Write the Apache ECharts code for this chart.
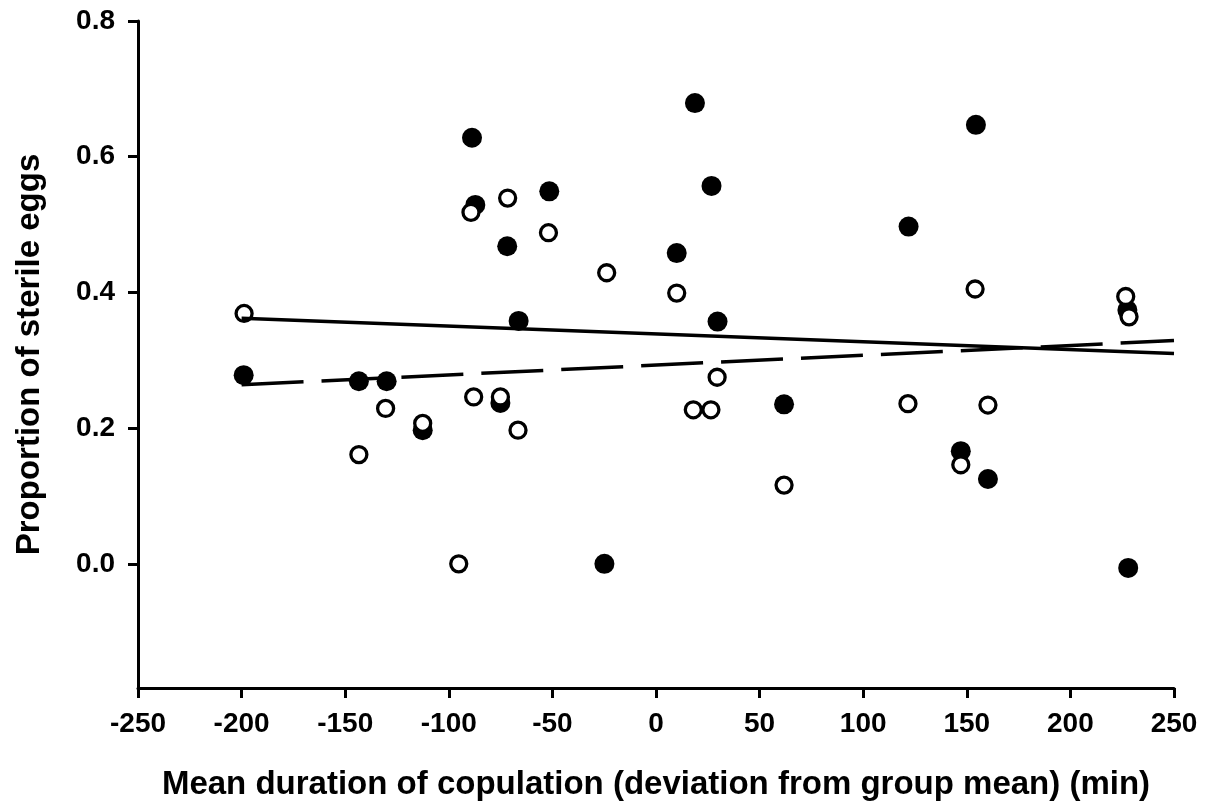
<!DOCTYPE html>
<html>
<head>
<meta charset="utf-8">
<title>Proportion of sterile eggs vs copulation duration</title>
<script src="https://cdn.jsdelivr.net/npm/echarts@6/dist/echarts.min.js"></script>
<style>
  html, body { margin: 0; padding: 0; background: #fff; }
  #chart { width: 1214px; height: 810px; }
</style>
</head>
<body>
<div id="chart"></div>
<script>
// x = mean copulation duration (deviation from group mean, min), y = proportion of sterile eggs
const filledPoints = [
  [-199, 0.278], [-143.4, 0.269], [-130, 0.269], [-112.6, 0.197],
  [-88.8, 0.628], [-87.2, 0.529], [-75.1, 0.237], [-71.8, 0.468],
  [-66.3, 0.358], [-51.5, 0.549], [-24.9, 0.0], [10, 0.458],
  [18.8, 0.679], [26.8, 0.557], [29.7, 0.357], [61.8, 0.235],
  [121.9, 0.497], [147.1, 0.166], [154.4, 0.647], [160.2, 0.125],
  [227.5, 0.374], [227.9, -0.006]
]
const openPoints = [
  [-198.8, 0.369], [-143.4, 0.161], [-130.5, 0.229], [-112.6, 0.207],
  [-95.2, 0.0], [-89.3, 0.518], [-88, 0.246], [-75.1, 0.246],
  [-71.6, 0.539], [-66.6, 0.197], [-51.9, 0.488], [-23.8, 0.429],
  [10, 0.399], [18, 0.227], [26.5, 0.227], [29.5, 0.275],
  [61.8, 0.116], [121.6, 0.236], [147.1, 0.146], [154, 0.405],
  [160.2, 0.234], [226.7, 0.394], [228.3, 0.364]
]
// fitted lines, end points
const solidLine = [[-200, 0.362], [250, 0.31]]
const dashedLine = [[-200, 0.264], [250, 0.329]]

const yTicks = [0, 0.2, 0.4, 0.6, 0.8]

const FONT = 'Liberation Sans'
const chart = echarts.init(document.getElementById('chart'))

chart.setOption({
  animation: false,
  backgroundColor: '#fff',
  grid: { left: 138, right: 40, top: 21, bottom: 122 },
  xAxis: {
    type: 'value',
    min: -250,
    max: 250,
    interval: 50,
    name: 'Mean duration of copulation (deviation from group mean) (min)',
    nameLocation: 'middle',
    nameGap: 80,
    nameTextStyle: { fontFamily: FONT, fontWeight: 'bold', fontSize: 33, color: '#000' },
    axisLine: { onZero: false, lineStyle: { color: '#000', width: 3 } },
    axisTick: { show: true, length: 10, lineStyle: { color: '#000', width: 3 } },
    axisLabel: { margin: 22, fontFamily: FONT, fontWeight: 'bold', fontSize: 28, color: '#000' },
    splitLine: { show: false }
  },
  yAxis: {
    type: 'value',
    min: -0.183,
    max: 0.8,
    name: 'Proportion of sterile eggs',
    nameLocation: 'middle',
    nameRotate: 90,
    nameGap: 92,
    nameTextStyle: { fontFamily: FONT, fontWeight: 'bold', fontSize: 33, color: '#000' },
    axisLine: { onZero: false, lineStyle: { color: '#000', width: 3 } },
    axisTick: { show: true, length: 10, customValues: yTicks, lineStyle: { color: '#000', width: 3 } },
    axisLabel: {
      margin: 23,
      customValues: yTicks,
      formatter: v => v.toFixed(1),
      fontFamily: FONT, fontWeight: 'bold', fontSize: 28, color: '#000'
    },
    splitLine: { show: false }
  },
  series: [
    {
      type: 'line',
      data: solidLine,
      symbol: 'none',
      silent: true,
      lineStyle: { color: '#000', width: 3.5 }
    },
    {
      type: 'line',
      data: dashedLine,
      symbol: 'none',
      silent: true,
      lineStyle: { color: '#000', width: 3.5, type: [62, 18] }
    },
    {
      type: 'scatter',
      data: filledPoints,
      symbol: 'circle',
      symbolSize: 20,
      itemStyle: { color: '#000', opacity: 1 }
    },
    {
      type: 'scatter',
      data: openPoints,
      symbol: 'circle',
      symbolSize: 16,
      itemStyle: { color: '#fff', borderColor: '#000', borderWidth: 3.3, opacity: 1 }
    }
  ]
})
</script>
</body>
</html>
